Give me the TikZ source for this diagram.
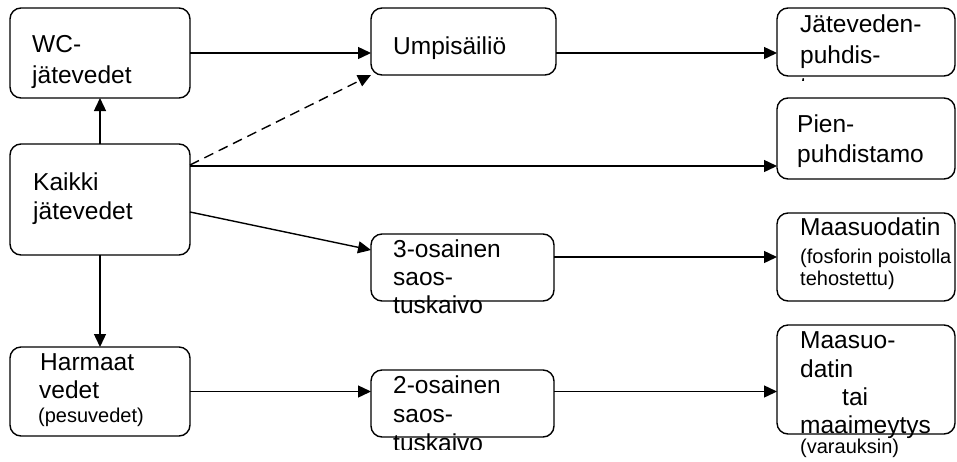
\documentclass[tikz,border=0pt]{standalone}
\usepackage{fontspec}
\setmainfont{Liberation Sans}
\usetikzlibrary{arrows.meta,calc}
\newcommand\bigf{\fontsize{24.5}{29}\selectfont}
\newcommand\smallf{\fontsize{20}{22}\selectfont}
\begin{document}
\begin{tikzpicture}[x=1pt,y=-1pt,
 box/.style={draw, line width=1.4pt, rounded corners=11pt, anchor=north west, inner sep=0pt, outer sep=0pt},
 tl/.style={anchor=base west, inner sep=0pt, font=\bigf},
 ts/.style={anchor=base west, inner sep=0pt, font=\smallf},
 conn/.style={line width=1.4pt, -{Triangle[length=13pt,width=12pt]}},
 dconn/.style={conn, dash pattern=on 10pt off 6pt},
]
\useasboundingbox (0,0) rectangle (957,461);

% boxes
\node[box, minimum width=180pt, minimum height=90pt] (wc) at (10,8) {};
\node[box, minimum width=180pt, minimum height=111pt] (kaikki) at (10,144) {};
\node[box, minimum width=180pt, minimum height=89pt] (harm) at (10,347) {};
\node[box, minimum width=185pt, minimum height=67pt] (umpi) at (371,8) {};
\node[box, minimum width=183pt, minimum height=67pt] (kolme) at (371,234) {};
\node[box, minimum width=183pt, minimum height=67pt] (kaksi) at (371,370) {};
\node[box, minimum width=178pt, minimum height=68pt] (jat) at (777,8) {};
\node[box, minimum width=178pt, minimum height=81pt] (pien) at (777,98) {};
\node[box, minimum width=178pt, minimum height=88pt] (maa1) at (777,213) {};
\node[box, minimum width=178pt, minimum height=109pt] (maa2) at (777,325) {};

% texts
\node[tl] (wc1) at (32,52) {WC-};
\node[tl] (wc2) at (32,83) {jätevedet};
\node[tl] (ka1) at (33,190) {Kaikki};
\node[tl] (ka2) at (33,219) {jätevedet};
\node[tl] (ha1) at (40,370) {Harmaat};
\node[tl] (ha2) at (39,398) {vedet};
\node[ts] (ha3) at (38,422) {(pesuvedet)};
\node[tl] (um1) at (393,54) {Umpisäiliö};
\node[tl] (ko1) at (393,257) {3-osainen};
\node[tl] (ko2) at (393,285) {saos-};
\node[tl] (ko3) at (393,313) {tuskaivo};
\node[tl] (kk1) at (393,393) {2-osainen};
\node[tl] (kk2) at (393,422) {saos-};
\begin{scope}
\clip (371,425) rectangle (560,449);
\node[tl] (kk3) at (393,451) {tuskaivo};
\end{scope}
\node[tl] (ja1) at (800,32) {Jäteveden-};
\node[tl] (ja2) at (800,63) {puhdis-};
\begin{scope}
\clip (777,66) rectangle (807,80);
\node[tl] (ja3) at (800,94) {tamo};
\end{scope}
\node[tl] (pi1) at (797,132) {Pien-};
\node[tl] (pi2) at (797,162) {puhdistamo};
\node[tl] (ma1) at (800,235) {Maasuodatin};
\node[ts] (ma2) at (800,263) {(fosforin poistolla};
\node[ts] (ma3) at (800,285) {tehostettu)};
\node[tl] (mb1) at (800,348) {Maasuo-};
\node[tl] (mb2) at (800,377) {datin};
\node[tl] (mb3) at (842,405) {tai};
\node[tl] (mb4) at (800,433) {maaimeytys};
\node[ts] (mb5) at (800,453) {(varauksin)};

% connectors
\coordinate (kp) at ($(kaikki.north east)+(0,22)$);
\coordinate (kd) at ($(kaikki.north east)+(0,21)$);
\coordinate (kk) at ($(kaikki.north east)+(0,68)$);
\coordinate (kt) at ($(kolme.north west)+(0,16)$);
\draw[conn] (wc.east) -- (wc.east -| umpi.west);
\draw[conn] (umpi.east |- wc.east) -- (jat.west |- wc.east);
\draw[conn] (kaikki.north) -- (wc.south);
\draw[conn] (kaikki.south) -- (harm.north);
\draw[dconn] (kd) -- (umpi.south west);
\draw[conn] (kp) -- (pien.west |- kp);
\draw[conn] (kk) -- (kt);
\draw[conn] (maa1.west -| kolme.east) -- (maa1.west);
\draw[conn] (harm.east) -- (harm.east -| kaksi.west);
\draw[conn] (kaksi.east |- harm.east) -- (maa2.west |- harm.east);
\end{tikzpicture}
\end{document}
